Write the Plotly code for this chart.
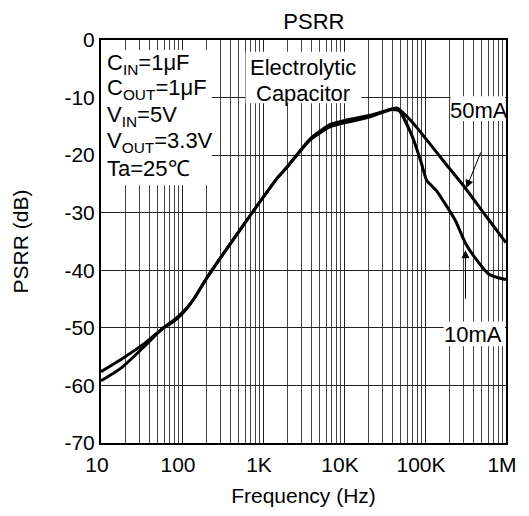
import math
import plotly.graph_objects as go

# ---- data ----
freq_50 = [10, 18, 34.5, 55.5, 80, 98, 120, 141, 203, 303, 760, 1500, 2000, 3800, 6700,
           10800, 20500, 38000, 45000, 69000, 110000, 178000, 314000, 554000, 1000000]
psrr_50 = [-57.6, -55.4, -52.7, -50.3, -48.8, -47.7, -46.3, -44.9, -41.3, -37.7, -29.7,
           -24.0, -22.0, -17.2, -14.7, -13.9, -13.1, -12.0, -11.8, -14.2, -17.7, -21.4,
           -25.7, -30.4, -35.2]

freq_10 = [10, 18, 34.5, 55.5, 80, 98, 120, 141, 203, 303, 760, 1500, 2000, 3800, 6700,
           10800, 20500, 38000, 48000, 69000, 89000, 105000, 139000, 180000, 238000,
           316000, 418000, 603000, 800000, 1000000]
psrr_10 = [-59.2, -56.9, -53.2, -50.3, -48.6, -47.5, -46.2, -44.9, -41.3, -37.7, -29.7,
           -24.0, -22.0, -17.4, -15.1, -14.3, -13.4, -12.1, -12.3, -16.6, -21.1, -24.4,
           -26.2, -28.6, -31.4, -35.3, -37.9, -40.6, -41.3, -41.6]

x_tickvals = [10, 100, 1000, 10000, 100000, 1000000]
x_ticktext = ["10", "100", "1K", "10K", "100K", "1M"]
y_tickvals = [0, -10, -20, -30, -40, -50, -60, -70]
y_ticktext = ["0", "-10", "-20", "-30", "-40", "-50", "-60", "-70"]
x_minor = [m * 10 ** d for d in range(1, 6) for m in range(2, 10)]

FONT = "Liberation Sans, Arial, sans-serif"
TICK_SIZE = 21
ANN_SIZE = 22

# target plot-area pixel geometry in the window
L, R, T, B = 99, 508, 40, 448
W, H = 529, 516
OFF = 8  # page body margin offset


def px(x):
    return (x - L) / (R - L)


def py(y):
    return (B - y) / (B - T)


fig = go.Figure()
fig.add_trace(go.Scatter(x=freq_50, y=psrr_50, mode="lines", name="50mA",
                         line=dict(color="black", width=3, shape="spline", smoothing=0.5)))
fig.add_trace(go.Scatter(x=freq_10, y=psrr_10, mode="lines", name="10mA",
                         line=dict(color="black", width=3, shape="spline", smoothing=0.5)))

# white boxes behind the annotation text (cover the grid)
boxes = [(99, 50, 211, 187), (245, 52, 362, 104), (452, 97, 507, 122), (445, 325, 507, 350)]
for x0, y0, x1, y1 in boxes:
    fig.add_shape(type="rect", xref="paper", yref="paper",
                  x0=px(x0), x1=px(x1), y0=py(y1), y1=py(y0),
                  fillcolor="white", line=dict(width=0), layer="above")

cond = ["C<sub>IN</sub>=1μF", "C<sub>OUT</sub>=1μF", "V<sub>IN</sub>=5V",
        "V<sub>OUT</sub>=3.3V", "Ta=25℃"]
cond_y = [64, 90, 117, 143, 170]
for t, yy in zip(cond, cond_y):
    fig.add_annotation(text=t, xref="paper", yref="paper", x=px(103), y=py(yy),
                       xanchor="left", yanchor="middle", showarrow=False,
                       font=dict(family=FONT, size=ANN_SIZE, color="black"))

for t, yy in zip(["Electrolytic", "Capacitor"], [68, 94]):
    fig.add_annotation(text=t, xref="paper", yref="paper", x=px(303), y=py(yy),
                       xanchor="center", yanchor="middle", showarrow=False,
                       font=dict(family=FONT, size=ANN_SIZE, color="black"))

fig.add_annotation(text="50mA", xref="paper", yref="paper", x=px(481), y=py(111),
                   xanchor="center", yanchor="middle", showarrow=False,
                   font=dict(family=FONT, size=ANN_SIZE, color="black"))
fig.add_annotation(text="10mA", xref="paper", yref="paper", x=px(475), y=py(338),
                   xanchor="center", yanchor="middle", showarrow=False,
                   font=dict(family=FONT, size=ANN_SIZE, color="black"))

# arrows (log axis -> annotation x is log10)
fig.add_annotation(text="", x=math.log10(324000), y=-25.7, xref="x", yref="y",
                   ax=15, ay=-37, showarrow=True, arrowhead=2, arrowsize=1.6,
                   arrowwidth=1, arrowcolor="black")
fig.add_annotation(text="", x=math.log10(316000), y=-36.5, xref="x", yref="y",
                   ax=0, ay=50, showarrow=True, arrowhead=2, arrowsize=1.6,
                   arrowwidth=1, arrowcolor="black")

fig.update_layout(
    width=W - OFF, height=H - OFF,
    margin=dict(l=L - OFF, r=W - R, t=T - OFF, b=H - B),
    paper_bgcolor="white", plot_bgcolor="white",
    showlegend=False,
    font=dict(family=FONT, size=TICK_SIZE, color="black"),
    title=dict(text="PSRR", x=px(314), xref="paper", xanchor="center",
               y=1 - (21 - OFF) / (H - OFF), yref="container", yanchor="middle",
               font=dict(family=FONT, size=ANN_SIZE, color="black")),
)
fig.update_xaxes(
    type="log", range=[1, 6],
    tickvals=x_tickvals, ticktext=x_ticktext,
    showgrid=True, gridcolor="#222", gridwidth=1,
    minor=dict(tickvals=x_minor, showgrid=True, gridcolor="#444", gridwidth=1, ticks=""),
    showline=True, linecolor="black", linewidth=2, mirror=True,
    ticks="", zeroline=False, ticklabelshift=-4, ticklabelstandoff=2,
    tickfont=dict(family=FONT, size=TICK_SIZE, color="black"),
    title=dict(text="Frequency (Hz)", font=dict(family=FONT, size=TICK_SIZE, color="black"),
               standoff=13),
)
fig.update_yaxes(
    range=[-70, 0], tickvals=y_tickvals, ticktext=y_ticktext,
    showgrid=True, gridcolor="#222", gridwidth=1,
    showline=True, linecolor="black", linewidth=2, mirror=True,
    ticks="", zeroline=False,
    tickfont=dict(family=FONT, size=TICK_SIZE, color="black"),
    title=dict(text="PSRR (dB)", font=dict(family=FONT, size=TICK_SIZE, color="black"),
               standoff=30),
)

fig.write_html("out.html")
